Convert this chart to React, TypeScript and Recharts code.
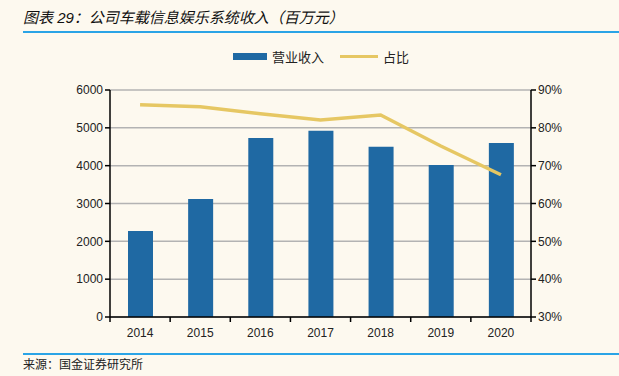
import React from 'react';
import { ComposedChart, Bar, Line, XAxis, YAxis, CartesianGrid } from 'recharts';

const years = ['2014', '2015', '2016', '2017', '2018', '2019', '2020'];
const revenue = [2270, 3120, 4730, 4920, 4500, 4020, 4600];
const share = [86.1, 85.6, 83.7, 82.1, 83.4, 75.2, 67.6];
const leftTicks = [0, 1000, 2000, 3000, 4000, 5000, 6000];
const rightTicks = [30, 40, 50, 60, 70, 80, 90];

const data = years.map((year, i) => ({ year, revenue: revenue[i], share: share[i] }));

const W = 619;
const H = 376;
const PLOT_LEFT = 110;
const PLOT_RIGHT = 531;
const BAND = (PLOT_RIGHT - PLOT_LEFT) / years.length;
const FONT = '"Liberation Sans", Arial, "Noto Sans CJK SC", sans-serif';

const XTick = (props: any) => {
    const { x, y, payload, index } = props;
    return (
        <g>
            <line x1={x - BAND / 2} y1={y - 8} x2={x - BAND / 2} y2={y - 3} stroke="#000" strokeWidth={1.5} />
            {index === years.length - 1 && (
                <line x1={x + BAND / 2} y1={y - 8} x2={x + BAND / 2} y2={y - 3} stroke="#000" strokeWidth={1.5} />
            )}
            <text x={x} y={y + 12} textAnchor="middle" fill="#222" fontSize={12} fontFamily={FONT}>
                {payload.value}
            </text>
        </g>
    );
};

export default function App() {
    return (
        <div style={{ position: 'absolute', left: 0, top: 0, width: W, height: H, background: '#FDF9EF', overflow: 'hidden' }}>
            <div style={{ position: 'absolute', left: 23, top: 6, fontSize: 15, fontStyle: 'italic', color: '#111', fontFamily: FONT }}>
                图表 29：公司车载信息娱乐系统收入（百万元）
            </div>
            <div style={{ position: 'absolute', left: 23, top: 31, width: 596, height: 2, background: '#2AA4E6' }} />
            <div
                style={{
                    position: 'absolute', left: 233, top: 47, display: 'flex', alignItems: 'center',
                    fontSize: 13, color: '#222', fontFamily: '"Noto Sans CJK SC", sans-serif',
                }}
            >
                <span style={{ display: 'inline-block', width: 34, height: 7, background: '#1F69A3', marginRight: 5 }} />
                <span style={{ marginRight: 16 }}>营业收入</span>
                <span style={{ display: 'inline-block', width: 38, height: 3, background: '#E6C763', marginRight: 5 }} />
                <span>占比</span>
            </div>
            <ComposedChart
                width={W}
                height={H}
                data={data}
                barCategoryGap={0}
                margin={{ top: 90, right: 38, left: 60, bottom: 29 }}
                style={{ position: 'absolute', left: 0, top: 0 }}
            >
                <CartesianGrid horizontal vertical={false} stroke="#B3B3B3" strokeWidth={1.5} yAxisId="left" />
                <XAxis dataKey="year" axisLine={{ stroke: '#000', strokeWidth: 1.5 }} tickLine={false} tick={<XTick />} height={30} interval={0} />
                <YAxis
                    yAxisId="left"
                    domain={[0, 6000]}
                    ticks={leftTicks}
                    width={50}
                    axisLine={{ stroke: '#000', strokeWidth: 1.5 }}
                    tickLine={{ stroke: '#000', strokeWidth: 1.5 }}
                    tickSize={5}
                    tick={{ fill: '#222', fontSize: 12, fontFamily: FONT }}
                />
                <YAxis
                    yAxisId="right"
                    orientation="right"
                    domain={[30, 90]}
                    ticks={rightTicks}
                    tickFormatter={(v) => `${v}%`}
                    width={50}
                    axisLine={{ stroke: '#000', strokeWidth: 1.5 }}
                    tickLine={{ stroke: '#000', strokeWidth: 1.5 }}
                    tickSize={5}
                    tick={{ fill: '#222', fontSize: 12, fontFamily: FONT }}
                />
                <Bar yAxisId="left" dataKey="revenue" name="营业收入" fill="#1F69A3" barSize={25} isAnimationActive={false} />
                <Line
                    yAxisId="right"
                    dataKey="share"
                    name="占比"
                    stroke="#E6C763"
                    strokeWidth={3.5}
                    dot={false}
                    type="linear"
                    isAnimationActive={false}
                />
            </ComposedChart>
            <div style={{ position: 'absolute', left: 23, top: 353, width: 596, height: 2, background: '#2AA4E6' }} />
            <div style={{ position: 'absolute', left: 23, top: 355, fontSize: 12, color: '#222', fontFamily: '"Noto Sans CJK SC", sans-serif' }}>
                来源：国金证券研究所
            </div>
        </div>
    );
}
